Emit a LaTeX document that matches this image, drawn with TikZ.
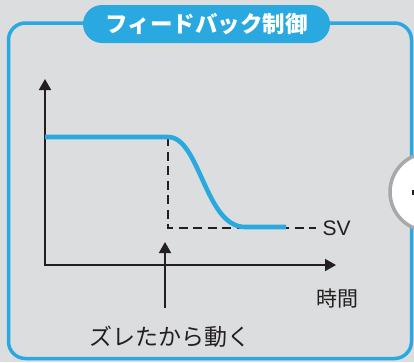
\documentclass[tikz,border=0pt]{standalone}
\usepackage{fontspec}
\newfontfamily\jp{Noto Sans CJK JP}
\newfontfamily\lat{Liberation Sans}
\usetikzlibrary{arrows.meta}
\definecolor{bg}{HTML}{DCDDDF}
\definecolor{fbblue}{HTML}{29A9E0}
\definecolor{ink}{HTML}{231F20}
\definecolor{ringgray}{HTML}{A6A8AB}
\tikzset{
  frame/.style={draw=fbblue, line width=3.5pt, rounded corners=17pt},
  pill/.style={fill=fbblue, rounded corners=19pt, minimum width=247pt, minimum height=38pt, inner sep=0pt, text=white, font=\jp\bfseries\fontsize{22.5pt}{26pt}\selectfont},
  axis/.style={draw=ink, line width=1.8pt, -{Triangle[width=12pt,length=11pt]}},
  resp/.style={draw=fbblue, line width=4.6pt},
  guide/.style={draw=ink, line width=1.8pt, dash pattern=on 9pt off 5.5pt},
  lbl/.style={text=ink, inner sep=0pt, font=\jp\fontsize{21pt}{24pt}\selectfont},
}
\begin{document}
\begin{tikzpicture}[x=1pt,y=-1pt]
\fill[bg] (0,0) rectangle (414,362);
\useasboundingbox (0,0) rectangle (414,362);
% outer frame
\draw[frame] (8.5,23) rectangle (411.5,358.5);
% title
\node[pill] (title) at (206.5,24) {フィードバック制御};
% partial gray circle on the right
\draw[draw=ringgray, fill=white, line width=3.5pt] (429,192) circle[radius=39];
\fill[ink] (411.5,189.5) rectangle (416,194.5);
% axes
\coordinate (O) at (45,265);
\coordinate (ytip) at (45,79);
\coordinate (xtip) at (336,265);
\draw[axis] (O) -- (ytip);
\draw[axis] ([xshift=-0.9pt]O) -- (xtip);
% guide (dashed) lines
\coordinate (bend) at (168,137);
\coordinate (corner) at (168,228);
\coordinate (svend) at (316,228);
\draw[guide] (bend) -- (corner) -- (svend);
\node[lbl, anchor=west, font=\lat\fontsize{21pt}{24pt}\selectfont] (sv) at (322.5,228.5) {SV};
% response curve
\coordinate (start) at (45,137);
\coordinate (settle) at (245,227);
\coordinate (stop) at (286,227);
\draw[resp] (start) -- (bend) .. controls (200,137) and (205,227) .. (settle) -- (stop);
% annotation arrow
\node[lbl, font=\jp\fontsize{23pt}{26pt}\selectfont] (note) at (170,337) {ズレたから動く};
\coordinate (notetail) at (165,308);
\coordinate (notetip) at (165,242);
\draw[axis] (notetail) -- (notetip);
% time label
\node[lbl] (time) at (337.5,299) {時間};
\end{tikzpicture}
\end{document}
